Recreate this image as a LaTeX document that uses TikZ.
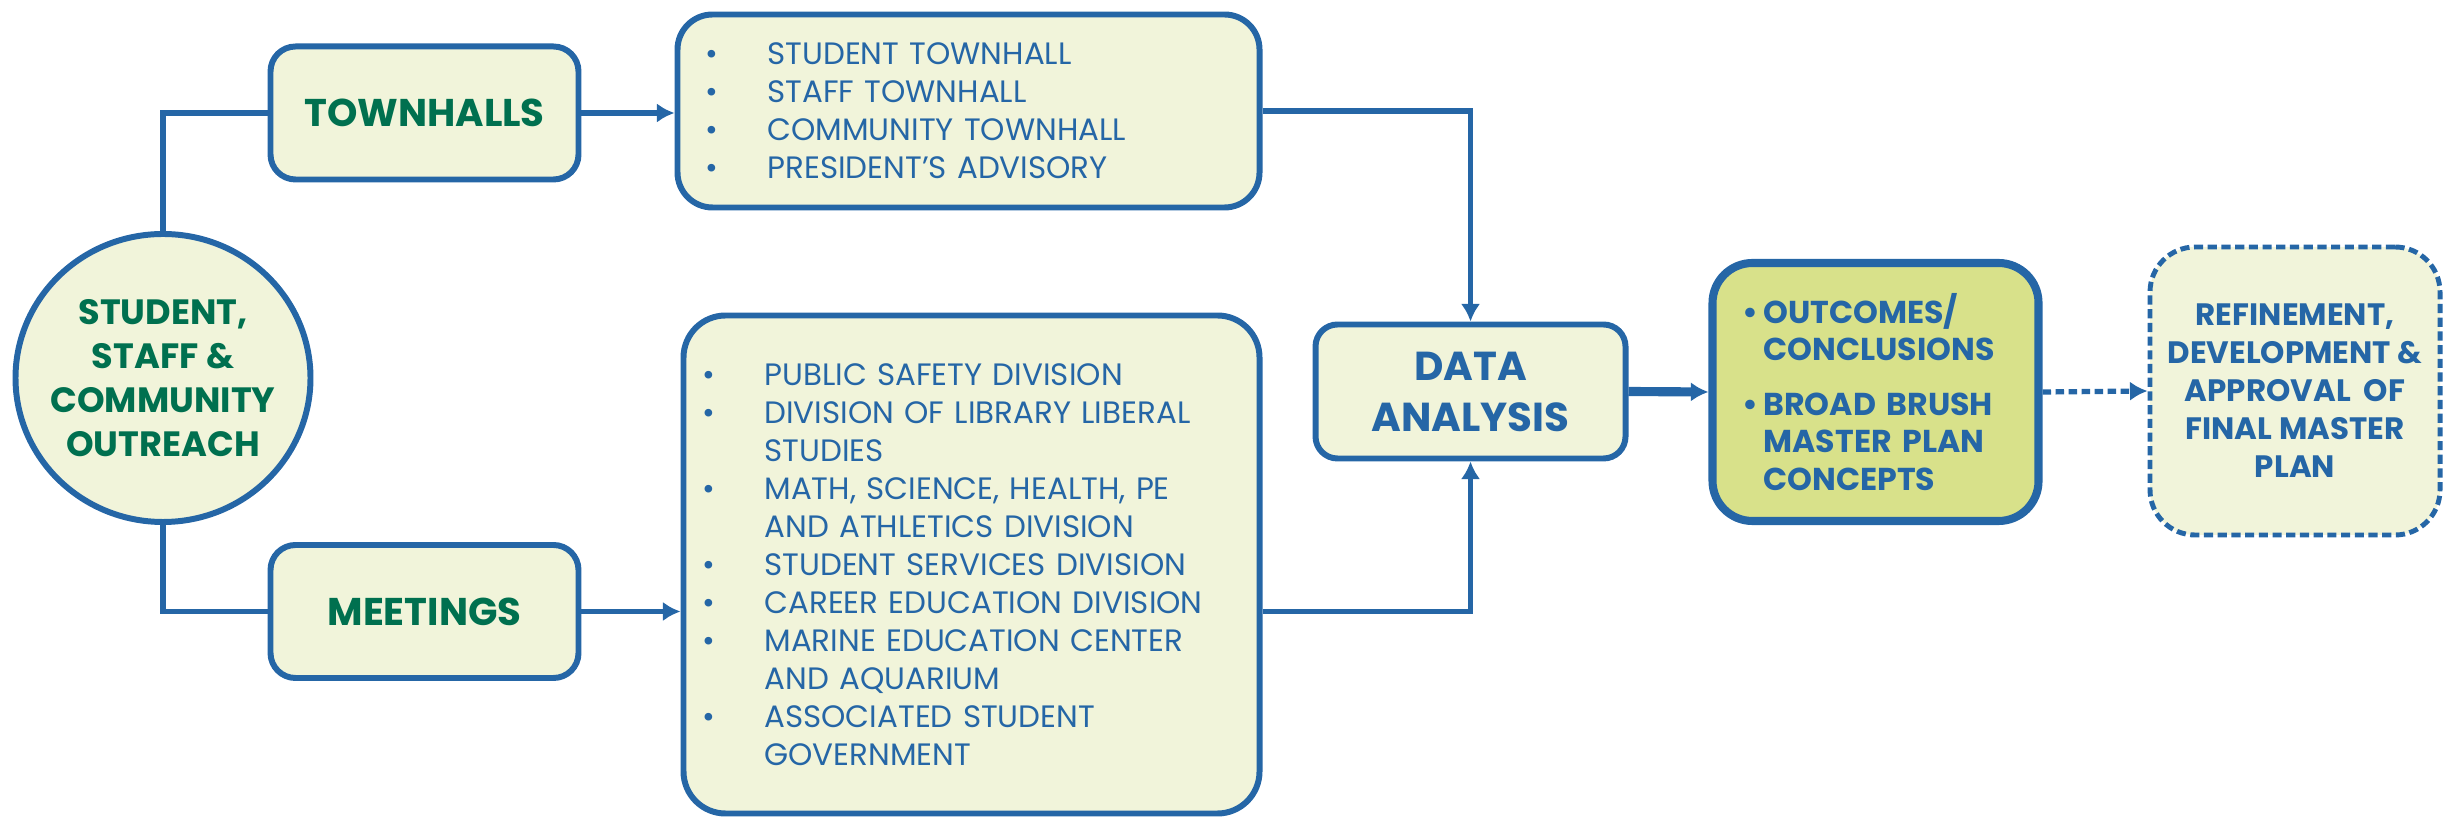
\documentclass[tikz,border=0pt]{standalone}
\usepackage{fontspec}
\setmainfont{Poppins}
\usetikzlibrary{shapes.geometric, arrows.meta, positioning}
\definecolor{lineblue}{HTML}{2566A6}
\definecolor{textgreen}{HTML}{00704F}
\definecolor{boxfill}{HTML}{F1F4DA}
\definecolor{outfill}{HTML}{D8E18A}
\newcommand{\lbul}{\makebox[0.62cm][l]{\textbullet}}
\newcommand{\lind}{\hspace*{0.62cm}}
\newcommand{\obul}{\makebox[0.21cm][l]{\textbullet}}

\begin{document}
\begin{tikzpicture}
\tikzstyle{bx}=[draw=lineblue, line width=1.7pt, fill=boxfill, rounded corners=0.25cm]
\tikzstyle{ttl}=[bx, font=\bfseries\fontsize{11}{13}\selectfont, text=textgreen, minimum width=3.08cm, minimum height=1.33cm]
\tikzstyle{lst}=[bx, font=\fontsize{8.8}{10.8}\selectfont, text=lineblue, align=left]
\tikzstyle{ln}=[line width=1.6pt, draw=lineblue]
\tikzstyle{ar}=[ln, -{Latex[length=5pt,width=5.5pt]}]

\useasboundingbox (0,0) rectangle (24.43,8.2);

\node[bx, ellipse, minimum width=2.95cm, minimum height=2.88cm, inner xsep=-0.1cm, inner ysep=0pt, align=center, text=textgreen, font=\bfseries\fontsize{10}{12.5}\selectfont] (out) at (1.63,4.42) {STUDENT,\\STAFF \&\\COMMUNITY\\OUTREACH};
\node[ttl] (th) at (4.245,7.07) {TOWNHALLS};
\node[ttl] (mt) at (4.245,2.085) {MEETINGS};
\node[lst, rounded corners=0.35cm, text width=5.26cm, inner xsep=0.28cm, minimum height=1.93cm] (thl) at (9.685,7.09) {\lbul STUDENT TOWNHALL\\\lbul STAFF TOWNHALL\\\lbul COMMUNITY TOWNHALL\\\lbul PRESIDENT'S ADVISORY};
\node[lst, rounded corners=0.42cm, text width=5.38cm, inner xsep=0.19cm, minimum height=4.98cm] (mtl) at (9.715,2.555) {\lbul PUBLIC SAFETY DIVISION\\\lbul DIVISION OF LIBRARY LIBERAL\\\lind STUDIES\\\lbul MATH, SCIENCE, HEALTH, PE\\\lind AND ATHLETICS DIVISION\\\lbul STUDENT SERVICES DIVISION\\\lbul CAREER EDUCATION DIVISION\\\lbul MARINE EDUCATION CENTER\\\lind AND AQUARIUM\\\lbul ASSOCIATED STUDENT\\\lind GOVERNMENT};
\node[bx, rounded corners=0.22cm, minimum width=3.1cm, minimum height=1.34cm, align=center, text=lineblue, font=\bfseries\fontsize{11.5}{14.5}\selectfont] (da) at (14.705,4.285) {DATA\\ANALYSIS};
\node[bx, fill=outfill, line width=2.3pt, rounded corners=0.4cm, text width=2.66cm, inner xsep=0.3cm, minimum height=2.58cm, align=left, text=lineblue, font=\bfseries\fontsize{9}{10.6}\selectfont] (oc) at (18.755,4.28) {\obul OUTCOMES/\\\hspace*{0.21cm}CONCLUSIONS\\[5pt]\obul BROAD BRUSH\\\hspace*{0.21cm}MASTER PLAN\\\hspace*{0.21cm}CONCEPTS};
\node[bx, line width=1.4pt, dash pattern=on 2.6pt off 1.3pt, rounded corners=0.45cm, minimum width=2.9cm, minimum height=2.88cm, align=center, text=lineblue, font=\bfseries\fontsize{8.8}{10.8}\selectfont] (rf) at (22.95,4.29) {REFINEMENT,\\DEVELOPMENT \&\\APPROVAL\ \ OF\\FINAL MASTER\\PLAN};

\draw[ln] (out.north) |- (th.west);
\draw[ln] (out.south) |- (mt.west);
\draw[ar] (th.east) -- (th.east -| thl.west);
\draw[ar] (mt.east) -- (mt.east -| mtl.west);
\draw[ar] (thl.east) -| (da.north);
\draw[ar] (mtl.east |- mt.east) -| (da.south);
\draw[ar, line width=2.6pt] (da.east) -- (oc.west);
\draw[ar, line width=1.5pt, dash pattern=on 2.4pt off 1.3pt] (oc.east) -- (rf.west);
\end{tikzpicture}
\end{document}
